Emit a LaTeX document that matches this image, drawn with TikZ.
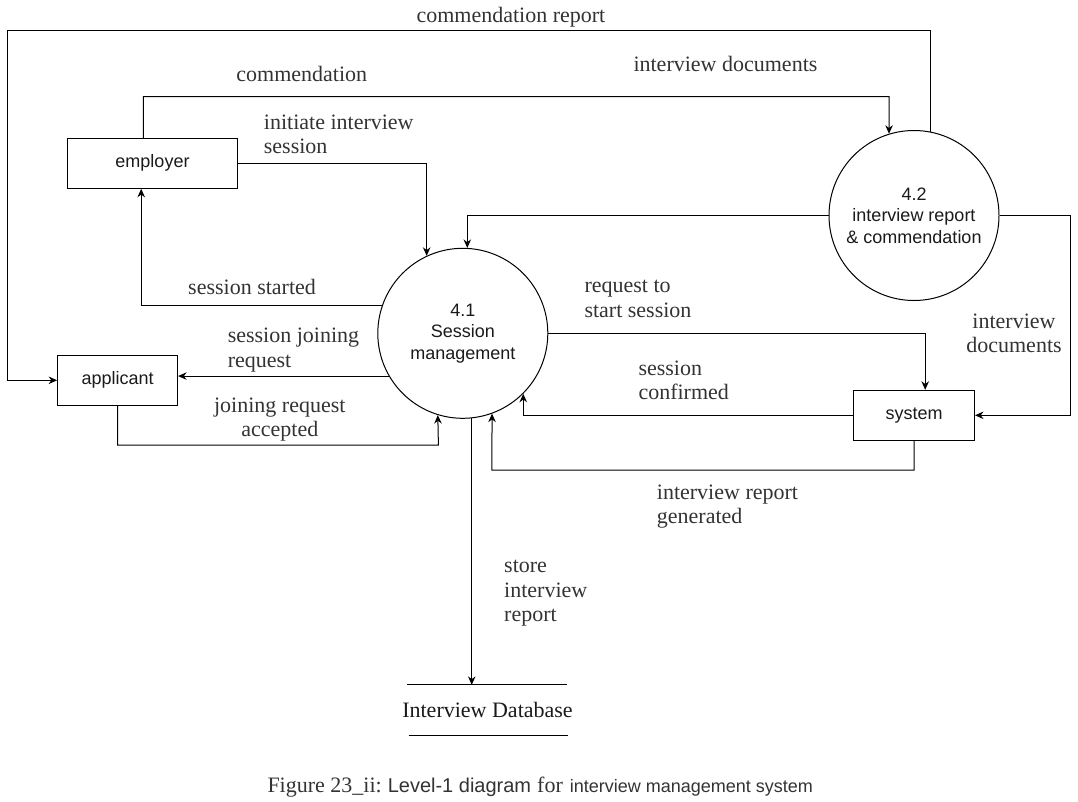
\documentclass[tikz,border=0pt]{standalone}
\usepackage{fontspec}
\setmainfont{Liberation Serif}
\setsansfont{Liberation Sans}
\usetikzlibrary{arrows.meta,calc}
\definecolor{labelgray}{HTML}{333333}
\definecolor{nodeink}{HTML}{1A1A1A}
\newcommand\lblL[1]{\vtop{\halign{##\hfil\cr#1\crcr}}}
\newcommand\lblC[1]{\vtop{\halign{\hfil##\hfil\cr#1\crcr}}}
\begin{document}
\begin{tikzpicture}[x=1pt,y=-1pt,line width=1pt,
  arr/.style={-{Stealth[length=8.5pt,width=7.5pt]}},
  box/.style={draw, rectangle, minimum width=#1, minimum height=50pt, inner sep=0pt, text=nodeink,
    font=\sffamily\fontsize{18}{21.5}\selectfont},
  proc/.style={draw, circle, minimum size=170pt, inner sep=0pt, align=center, text=nodeink,
    font=\sffamily\fontsize{18}{21.5}\selectfont},
  storebox/.style={minimum width=160pt, minimum height=49.7pt, inner sep=0pt, text=nodeink,
    font=\rmfamily\fontsize{22}{24.5}\selectfont},
  lab/.style={inner sep=0pt, text=labelgray, font=\rmfamily\fontsize{22}{24.5}\selectfont}]
\useasboundingbox (0,0) rectangle (1078,801);

% entities and processes
\node[box=170pt] (employer) at (152.5,163.3) {employer};
\node[box=120pt] (applicant) at (117.6,380.3) {applicant};
\node[box=121pt] (system) at (914,415.3) {system};
\node[proc] (p41) at (462.8,333.3) {4.1\\Session\\management};
\node[proc] (p42) at (914,215.5) {4.2\\interview report\\\& commendation};
\node[storebox] (db) at (487.5,710.2) {Interview Database};
\draw ([xshift=-80.5pt]db.north) -- ([xshift=79.5pt]db.north);
\draw ([xshift=-79pt]db.south) -- ([xshift=80.5pt]db.south);

% waypoints
\coordinate (wtop) at (7.6,30.7);
\coordinate (wc) at (889.2,96.7);
\coordinate (wj) at (438.4,445);
\coordinate (wr) at (1070,415.3);
\coordinate (wg) at (491.9,470);

% flows
\draw[arr] (p42.79) |- (wtop) |- (applicant.west);
\draw[arr] ([xshift=-9.2pt]employer.north) |- (wc) -- (p42.107);
\draw[arr] (employer.east) -| (p41.115);
\draw[arr] (p41.161) -| ([xshift=-11.3pt]employer.south);
\draw[arr] (p41.210) -- (p41.210 -| applicant.east);
\draw[arr] (applicant.south) |- (wj) -- (p41.253);
\draw[arr] (p42.west) -| (p41.87);
\draw[arr] (p42.east) -| (wr) -- (system.east);
\draw[arr] (p41.east) -| ([xshift=11.2pt]system.north);
\draw[arr] (system.west) -| (p41.-45);
\draw[arr] (system.south) |- (wg) -- (p41.-70);
\draw[arr] (p41.-84) -- (p41.-84 |- db.north);

% labels
\node[lab, anchor=base west] (tcr) at (416,22.7) {commendation report};
\node[lab, anchor=base west] (tcom) at (235.9,81.7) {commendation};
\node[lab, anchor=base west] (tid) at (633,71.7) {interview documents};
\node[lab, anchor=base west] (tinit) at (263.4,129) {\lblL{initiate interview\cr session}};
\node[lab, anchor=base west] (tss) at (187.7,294) {session started};
\node[lab, anchor=base west] (tsj) at (227.3,342.7) {\lblL{session joining\cr request}};
\node[lab, anchor=base] (tjr) at (279.8,412.3) {\lblC{joining request\cr accepted}};
\node[lab, anchor=base west] (trs) at (584,292.7) {\lblL{request to\cr start session}};
\node[lab, anchor=base west] (tsc) at (638,375) {\lblL{session\cr confirmed}};
\node[lab, anchor=base] (tid2) at (1014,328.3) {\lblC{interview\cr documents}};
\node[lab, anchor=base west] (tirg) at (656.4,499.3) {\lblL{interview report\cr generated}};
\node[lab, anchor=base west] (tstore) at (503.7,572.7) {\lblL{store\cr interview\cr report}};

% caption
\node[anchor=base west, inner sep=0pt, text=labelgray] (cap) at (267,792.7)
  {{\rmfamily\fontsize{22}{24}\selectfont Figure 23\_ii:}\hspace{6pt}{\sffamily\fontsize{20}{24}\selectfont Level-1 diagram}\hspace{6pt}{\rmfamily\fontsize{22}{24}\selectfont for}\hspace{7pt}{\sffamily\fontsize{18}{24}\selectfont interview management system}};
\end{tikzpicture}
\end{document}
